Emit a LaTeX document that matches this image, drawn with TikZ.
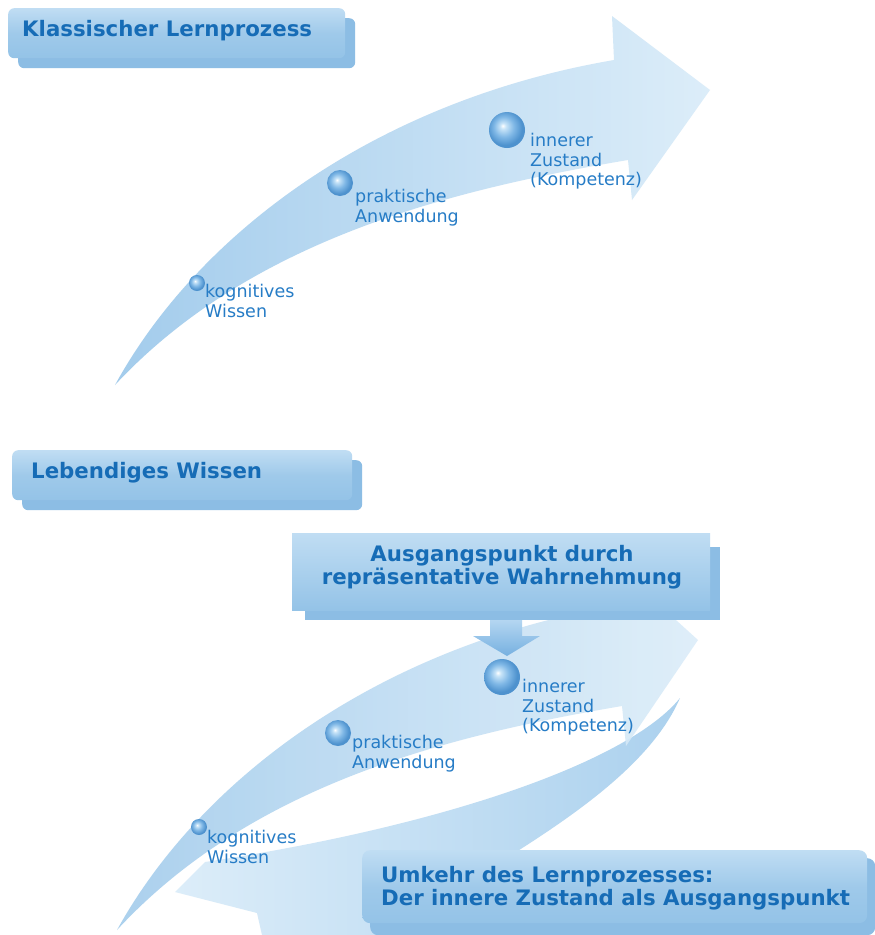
\documentclass[tikz,border=0pt]{standalone}
\usepackage{fontspec}
\setmainfont{DejaVu Sans}
\definecolor{txtblue}{RGB}{22,108,182}
\definecolor{lbltxt}{RGB}{38,124,198}
\definecolor{boxtop}{RGB}{192,221,243}
\definecolor{boxbot}{RGB}{148,195,231}
\definecolor{boxshadow}{RGB}{140,189,228}
\definecolor{arrdark}{RGB}{163,204,236}
\definecolor{arrlight}{RGB}{220,237,249}
\definecolor{sphlight}{RGB}{200,228,248}
\definecolor{sphmid}{RGB}{128,184,230}
\definecolor{sphrim}{RGB}{78,146,206}
\definecolor{downtop}{RGB}{180,214,241}
\definecolor{downbot}{RGB}{118,176,224}
\pgfdeclareradialshading{glossball}{\pgfpoint{-6bp}{6bp}}{%
  color(0bp)=(white); color(4bp)=(sphlight); color(14bp)=(sphmid);
  color(24bp)=(sphrim); color(50bp)=(sphrim)}
\tikzset{
  shadowbox/.style={rounded corners=6pt, fill=boxshadow, inner sep=0pt, anchor=north west},
  mainbox/.style={rounded corners=6pt, top color=boxtop, bottom color=boxbot, middle color=boxbot!75!boxtop, inner sep=0pt, anchor=north west},
  flatshadow/.style={fill=boxshadow, inner sep=0pt, anchor=north west},
  flatbox/.style={top color=boxtop, bottom color=boxbot, inner sep=0pt, anchor=north west},
  headtext/.style={text=txtblue, font=\fontsize{21.3}{23.5}\selectfont\bfseries, inner sep=0pt},
  steptext/.style={text=lbltxt, font=\fontsize{17.5}{19.5}\selectfont, align=left, inner sep=0pt, anchor=north west},
  sphere/.style={circle, shading=glossball, inner sep=0pt},
  fwdarrow/.style={left color=arrdark, right color=arrlight, draw=none},
  backarrow/.style={left color=arrlight, right color=arrdark!85!arrlight, draw=none},
}
\begin{document}
\begin{tikzpicture}[x=1pt,y=1pt]
\useasboundingbox (0,0) rectangle (875,-935);
\fill[white] (0,0) rectangle (875,-935);

% ---------- upper part ----------
\path[fwdarrow] (115,-385) .. controls (200,-230) and (380,-100) .. (614,-60)
  -- (612,-16) -- (710,-90) -- (632,-200) -- (628,-160)
  .. controls (450,-190) and (250,-240) .. (115,-385) -- cycle;

\node[sphere, minimum size=16] (k1) at (197,-283) {};
\node[sphere, minimum size=26] (p1) at (340,-183) {};
\node[sphere, minimum size=36] (i1) at (507,-130) {};
\node[steptext] (k1t) at (205,-284) {kognitives\\Wissen};
\node[steptext] (p1t) at (355,-189) {praktische\\Anwendung};
\node[steptext] (i1t) at (530,-133) {innerer\\Zustand\\(Kompetenz)};

\node[shadowbox, minimum width=337, minimum height=50] (t1s) at (18,-18) {};
\node[mainbox, minimum width=337, minimum height=50] (t1) at (8,-8) {};
\node[headtext, anchor=base west] (t1t) at (22,-36) {Klassischer Lernprozess};

% ---------- lower part ----------
\node[shadowbox, minimum width=340, minimum height=50] (t2s) at (22,-460) {};
\node[mainbox, minimum width=340, minimum height=50] (t2) at (12,-450) {};
\node[headtext, anchor=base west] (t2t) at (31,-478) {Lebendiges Wissen};

% return arrow
\path[backarrow] (680,-698) .. controls (630,-760) and (450,-825) .. (205,-862)
  -- (175,-892) -- (257,-913) -- (262,-935) -- (380,-935)
  .. controls (500,-860) and (640,-790) .. (680,-698) -- cycle;

% forward arrow
\path[fwdarrow, opacity=0.9] (117,-930) .. controls (202,-776) and (382,-646) .. (614,-606)
  -- (612,-562) -- (698,-640) -- (626,-746) -- (622,-706)
  .. controls (445,-736) and (250,-786) .. (117,-930) -- cycle;

\node[sphere, minimum size=16] (k2) at (199,-827) {};
\node[sphere, minimum size=26] (p2) at (338,-733) {};
\node[sphere, minimum size=36] (i2) at (502,-677) {};
\node[steptext] (k2t) at (207,-830) {kognitives\\Wissen};
\node[steptext] (p2t) at (352,-735) {praktische\\Anwendung};
\node[steptext] (i2t) at (522,-679) {innerer\\Zustand\\(Kompetenz)};

% box 3
\node[flatshadow, minimum width=415, minimum height=73] (b3s) at (305,-547) {};
\node[flatbox, minimum width=418, minimum height=77] (b3) at (292,-533) {};
\node[headtext, align=center, anchor=north] (b3t) at (502,-545)
  {Ausgangspunkt durch\\repräsentative Wahrnehmung};

% small down arrow from box 3 to inner sphere
\path[top color=downtop, bottom color=downbot]
  (490,-620) -- (522,-620) -- (522,-636) -- (540,-636) -- (507,-656)
  -- (473,-636) -- (490,-636) -- cycle;

% Umkehr box
\node[shadowbox, rounded corners=8pt, minimum width=505, minimum height=77] (b4s) at (370,-858) {};
\node[mainbox, rounded corners=8pt, minimum width=505, minimum height=73] (b4) at (362,-850) {};
\node[headtext, align=left, anchor=north west] (b4t) at (381,-866)
  {Umkehr des Lernprozesses:\\Der innere Zustand als Ausgangspunkt};
\end{tikzpicture}
\end{document}
